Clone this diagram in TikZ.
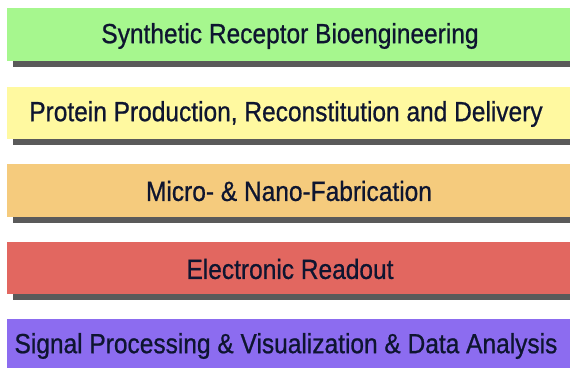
\documentclass[tikz,border=0pt]{standalone}
\usepackage{fontspec}
\usepackage{graphicx}
\setmainfont{Liberation Sans}
\newfontfamily\bandfont[FakeBold=0.8]{Liberation Sans}
\definecolor{bandgreen}{HTML}{A6F78E}
\definecolor{bandyellow}{HTML}{FFF9A0}
\definecolor{bandorange}{HTML}{F5CB7D}
\definecolor{bandred}{HTML}{E26760}
\definecolor{bandpurple}{HTML}{8C6CF0}
\definecolor{bandshadow}{HTML}{5A5A5A}
\definecolor{bandtext}{HTML}{0E1530}
\newcommand{\bandlabel}[1]{\scalebox{1}[1.13]{#1}}
\tikzset{
  shade band/.style={fill=bandshadow},
  label text/.style={font=\bandfont\fontsize{24.5}{28}\selectfont, text=bandtext, inner sep=0pt}
}
\begin{document}
\begin{tikzpicture}[x=1pt,y=-1pt]
\useasboundingbox (0,0) rectangle (570,372);
% shadows under the first four bands
\foreach \b in {61, 139, 217, 294}{
  \fill[shade band] (13,\b) rectangle (570,\b+6);
}
% bands
\fill[bandgreen]  (7,8)   rectangle (570,61);
\fill[bandyellow] (7,87)  rectangle (570,139);
\fill[bandorange] (7,164) rectangle (570,217);
\fill[bandred]    (7,242) rectangle (570,294);
\fill[bandpurple] (7,319) rectangle (570,368);
% labels
\node[label text] (l1) at (290,36)  {\bandlabel{Synthetic Receptor Bioengineering}};
\node[label text] (l2) at (286,114) {\bandlabel{Protein Production, Reconstitution and Delivery}};
\node[label text] (l3) at (289,191) {\bandlabel{Micro- \& Nano-Fabrication}};
\node[label text] (l4) at (290,269) {\bandlabel{Electronic Readout}};
\node[label text] (l5) at (286,346) {\bandlabel{Signal Processing \& Visualization \& Data Analysis}};
\end{tikzpicture}
\end{document}
